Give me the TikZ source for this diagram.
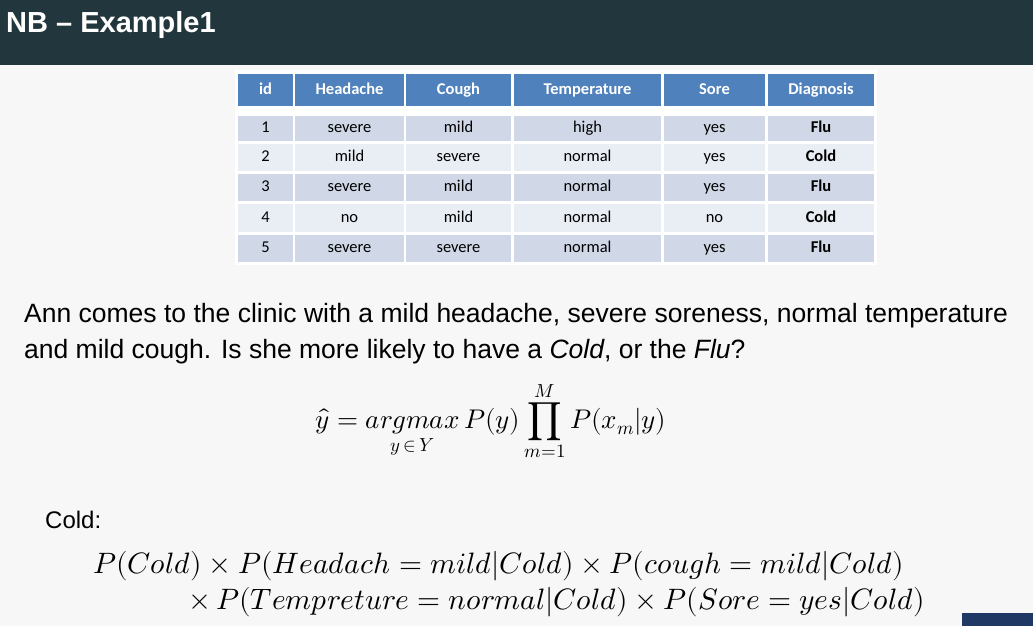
\documentclass[tikz,border=0pt]{standalone}
\usepackage{amsmath}
\usepackage{unicode-math}
\setmainfont{Liberation Sans}
\setmathfont{Latin Modern Math}
\newfontfamily\calib{Carlito}
\definecolor{bar}{HTML}{22373D}
\definecolor{pg}{HTML}{F7F7F7}
\definecolor{hd}{HTML}{4F81BD}
\definecolor{ra}{HTML}{D0D8E8}
\definecolor{rb}{HTML}{E9EDF4}
\definecolor{nb}{HTML}{1F3864}
\tikzset{cell/.style={inner sep=0pt,anchor=north west},
 ctext/.style={inner sep=0pt,anchor=center,text height=11pt,text depth=3pt,font=\calib\fontsize{16.5}{18}\selectfont},
 txt/.style={inner sep=0pt,anchor=west}}
\begin{document}
\begin{tikzpicture}[x=1pt,y=-1pt]
\fill[pg] (0,0) rectangle (1033,626);
\useasboundingbox (0,0) rectangle (1033,626);
\fill[bar] (0,0) rectangle (1033,65);
\node[txt,text=white,font=\bfseries\fontsize{29}{32}\selectfont] (title) at (6,25) {NB -- Example1};
\fill[white] (235,70) rectangle (877,265);
\def\xs{238/293,295/404,406/511,514/661,664/765,768/874}
\foreach [count=\i] \a/\b/\t in {238/293/id,295/404/Headache,406/511/Cough,514/661/Temperature,664/765/Sore,768/874/Diagnosis}{
  \path[fill=hd] (\a,74) rectangle (\b,106) coordinate[pos=.5] (h\i);
  \node[ctext,text=white,font=\calib\bfseries\fontsize{16.5}{18}\selectfont] (ht\i) at (h\i) {\t};
}
\foreach [count=\r] \ya/\yb/\c/\v in {
 116/141/ra/{1,severe,mild,high,yes,\textbf{Flu}},
 144/171/rb/{2,mild,severe,normal,yes,\textbf{Cold}},
 174/201/ra/{3,severe,mild,normal,yes,\textbf{Flu}},
 204/232/rb/{4,no,mild,normal,no,\textbf{Cold}},
 235/262/ra/{5,severe,severe,normal,yes,\textbf{Flu}}}{
  \foreach [count=\i] \a/\b in \xs {
    \path[fill=\c] (\a,\ya) rectangle (\b,\yb) coordinate[pos=.5] (c\r\i);
  }
  \foreach [count=\i] \t in \v {
    \node[ctext] (t\r\i) at (c\r\i) {\t};
  }
}
\node[txt,font=\fontsize{26.5}{36}\selectfont,align=left,anchor=north west] (para) at (24,303)
 {Ann comes to the clinic with a mild headache, severe soreness, normal temperature\\and mild cough. Is she more likely to have a \textit{Cold}, or the \textit{Flu}?};
\node[inner sep=0pt,font=\fontsize{27}{30}\selectfont] (f1) at (491,421)
 {$\displaystyle \hat y = \mathop{argmax}\limits_{y\,\in\, Y} P(y)\prod_{m=1}^{M} P(x_m|y)$};
\node[txt,font=\fontsize{24}{26}\selectfont] (cold) at (45,520) {Cold:};
\node[txt,font=\fontsize{29.5}{32}\selectfont] (l1) at (93,566)
 {$P(Cold)\times P(Headach=mild|Cold)\times P(cough=mild|Cold)$};
\node[txt,font=\fontsize{29.5}{32}\selectfont] (l2) at (188,602)
 {$\times\, P(Tempreture=normal|Cold)\times P(Sore=yes|Cold)$};
\fill[nb] (962,613) rectangle (1033,626);
\end{tikzpicture}
\end{document}
